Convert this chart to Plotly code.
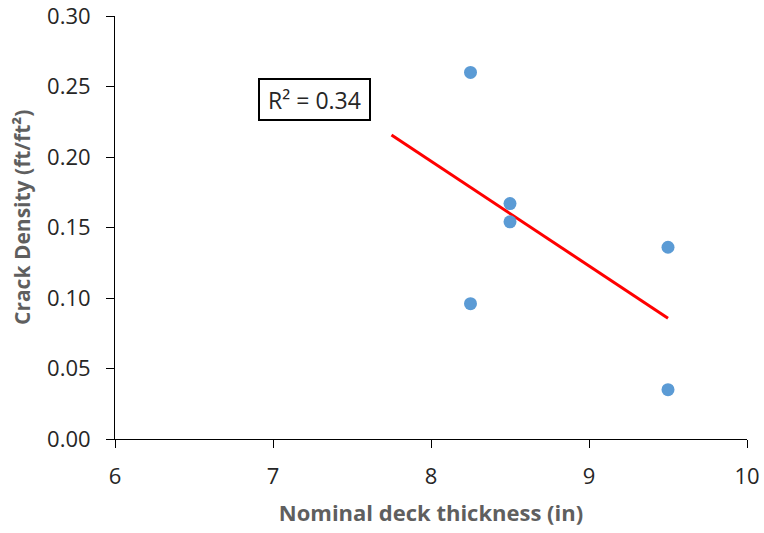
import numpy as np
import plotly.graph_objects as go

# Data
thickness = [8.25, 8.25, 8.5, 8.5, 9.5, 9.5]
crack_density = [0.260, 0.096, 0.167, 0.154, 0.136, 0.035]
trend_x_range = [7.75, 9.5]
x_ticks = [6, 7, 8, 9, 10]
y_ticks = [0.00, 0.05, 0.10, 0.15, 0.20, 0.25, 0.30]

# Linear trendline (least squares)
slope, intercept = np.polyfit(thickness, crack_density, 1)
pred = np.polyval([slope, intercept], thickness)
ss_res = np.sum((np.array(crack_density) - pred) ** 2)
ss_tot = np.sum((np.array(crack_density) - np.mean(crack_density)) ** 2)
r2 = 1 - ss_res / ss_tot
trend_y = [slope * x + intercept for x in trend_x_range]

font_family = "Open Sans, Noto Sans, sans-serif"
tick_color = "#262626"
title_color = "#5f5f5f"

fig = go.Figure()
fig.add_trace(go.Scatter(
    x=trend_x_range, y=trend_y, mode="lines",
    line=dict(color="#FF0000", width=3), showlegend=False, hoverinfo="skip"))
fig.add_trace(go.Scatter(
    x=thickness, y=crack_density, mode="markers",
    marker=dict(color="#5B9BD5", size=13), showlegend=False))

fig.add_annotation(
    x=7.26, y=0.2408, xref="x", yref="y",
    text=f"R² = {r2:.2f}", showarrow=False,
    font=dict(family=font_family, size=23, color=tick_color),
    width=101, height=31,
    bordercolor="#000000", borderwidth=2, borderpad=4, bgcolor="white")

# Y-axis title (placed slightly above centre, as in the reference)
fig.add_annotation(
    x=0, y=0.5225, xref="paper", yref="paper", xshift=-93,
    xanchor="center", yanchor="middle",
    text="Crack Density (ft/ft²)", textangle=-90, showarrow=False,
    font=dict(family=font_family, size=21, color=title_color, weight="bold"))

fig.update_layout(
    width=764, height=533,
    margin=dict(l=115, r=17, t=16, b=94),
    plot_bgcolor="white", paper_bgcolor="white",
    font=dict(family=font_family, size=22, color=tick_color),
)
fig.update_xaxes(
    range=[6, 10], tickvals=x_ticks, ticktext=[str(v) for v in x_ticks],
    showgrid=False, zeroline=False, showline=True, linecolor="#000000", linewidth=1,
    ticks="outside", ticklen=8, tickcolor="#000000", automargin=False,
    ticklabelstandoff=10, ticklabeloverflow="allow",
    tickfont=dict(size=22, color=tick_color),
    title=dict(text="Nominal deck thickness (in)",
               font=dict(family=font_family, size=22, color=title_color, weight="bold"),
               standoff=16),
)
fig.update_yaxes(
    range=[0, 0.30], tickvals=y_ticks, ticktext=[f"{v:.2f}" for v in y_ticks],
    showgrid=False, zeroline=False, showline=True, linecolor="#000000", linewidth=1,
    ticks="outside", ticklen=8, tickcolor="#000000", automargin=False,
    ticklabelstandoff=11, ticklabeloverflow="allow",
    tickfont=dict(size=22, color=tick_color),
)

fig.write_html("out.html")
